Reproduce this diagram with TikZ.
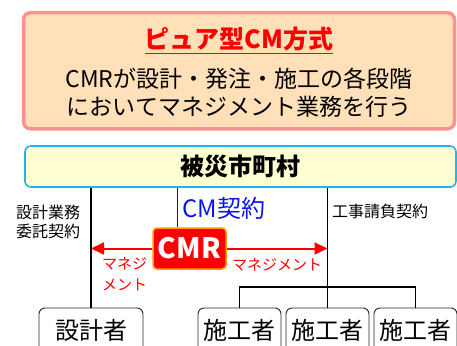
\documentclass[tikz,border=0pt]{standalone}
\usepackage{fontspec}
\setmainfont{Noto Sans CJK JP}
\usetikzlibrary{calc,positioning,arrows.meta}
\definecolor{peach}{HTML}{FFE0B8}
\definecolor{glowred}{HTML}{FF9090}
\definecolor{paleyellow}{HTML}{FFFFD2}
\definecolor{skyblue}{HTML}{1FB4F0}
\definecolor{cmrorange}{HTML}{FF9900}
\definecolor{cmblue}{HTML}{0A14F0}
% thick underline for the title
\newcommand{\titleul}[1]{\begingroup\setbox0=\hbox{#1}\vtop{\copy0\kern2pt\hrule height 1.6pt width \wd0}\endgroup}
\tikzset{
    x=1pt, y=-1pt, % one unit is one pixel of the reference, y goes down
    methodbox/.style={draw=glowred, line width=3.5pt, fill=peach, rounded corners=7pt, minimum width=431pt, minimum height=116pt}, % the top frame
    citybox/.style={draw=skyblue, line width=1.6pt, fill=paleyellow, rounded corners=6pt, minimum width=431pt, minimum height=41pt, font=\fontsize{24}{26}\selectfont\bfseries},
    cmrbox/.style={draw=cmrorange, line width=1.5pt, fill=red, rounded corners=4pt, minimum width=73pt, minimum height=41pt, text=white, font=\fontsize{28}{30}\selectfont\bfseries},
    partybox/.style={draw=black!85, line width=0.9pt, rounded corners=6pt, minimum height=44pt, inner sep=0pt, font=\fontsize{24}{26}\selectfont}, % designer and builders
    smalltext/.style={inner sep=0pt, align=left, font=\fontsize{16}{19}\selectfont},
    mgmttext/.style={inner sep=0pt, align=left, text=red, font=\fontsize{15}{21}\selectfont},
    contract/.style={line width=1.6pt},
    mgmtarrow/.style={red, line width=2pt, -{Triangle[length=13pt,width=12pt]}},
}

\begin{document}
\begin{tikzpicture}
      \useasboundingbox (0,0) rectangle (457,345);
      % top frame
      \node (q_method) [methodbox] at (239,70.75) {};
      \node (q_title) [inner sep=0pt, text=red, font=\fontsize{25}{27}\selectfont\bfseries] at (239,40.5) {\titleul{ピュア型CM方式}};
      \node (q_desc) [inner sep=0pt, align=center, font=\fontsize{23}{28.5}\selectfont] at (239,92.75) {CMRが設計・発注・施工の各段階\\においてマネジメント業務を行う};

      \node (q_city) [citybox] at (240.5,166.5) {被災市町村};
      \node (q_cmr) [cmrbox] at (189.5,248.5) {CMR};

      \node (q_designer) [partybox, minimum width=104pt] at (91,330) {設計者};
      \node (q_builder_a) [partybox, minimum width=83pt] at (239.5,330) {施工者};
      \node (q_builder_b) [partybox, minimum width=83pt] at (327.5,330) {施工者};
      \node (q_builder_c) [partybox, minimum width=83pt] at (415.5,330) {施工者};

      \coordinate (q_cmline) at (177.5,0);
      \coordinate (q_branch) at (327.5,287);

      \node (q_cmlabel) [anchor=west, inner sep=0pt, text=cmblue, font=\fontsize{24}{26}\selectfont] at (182,208) {CM契約};
      \node (q_designlabel) [smalltext, anchor=west] at (16,221.5) {設計業務\\委託契約};
      \node (q_worklabel) [smalltext, anchor=west] at (332,211) {工事請負契約};
      \node (q_mgmt_left) [mgmttext, anchor=west] at (102,274.5) {マネジ\\メント};
      \node (q_mgmt_right) [mgmttext, anchor=west] at (232,264.5) {マネジメント};

      \draw[contract] (q_designer.north |- q_city.south) -- (q_designer.north);
      \draw[contract] (q_builder_b.north |- q_city.south) -- (q_builder_b.north);
      \draw[contract] (q_builder_a.north) |- (q_branch) -| (q_builder_c.north);
      \draw[contract, blue] (q_cmline |- q_city.south) -- (q_cmline |- q_cmr.north);
      \draw[mgmtarrow] (q_cmr.west) -- (q_cmr.west -| q_designer.north);
      \draw[mgmtarrow] (q_cmr.east) -- (q_cmr.east -| q_builder_b.north);
\end{tikzpicture}
\end{document}
